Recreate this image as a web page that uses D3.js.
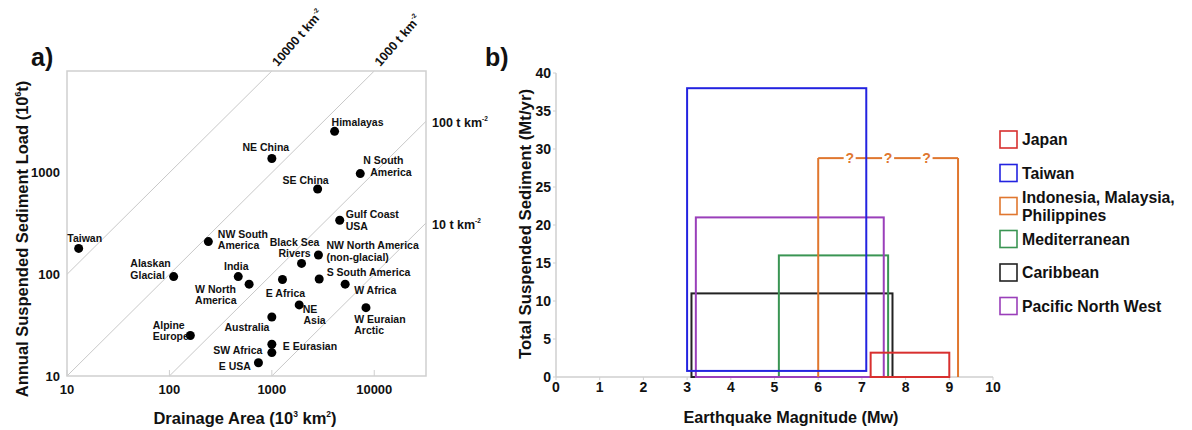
<!DOCTYPE html>
<html>
<head>
<meta charset="utf-8">
<script src="https://cdn.jsdelivr.net/npm/d3@7"></script>
<style>
  html, body { margin: 0; padding: 0; background: #fff; }
  svg { display: block; }
  text { font-family: "Liberation Sans", Arial, sans-serif; font-weight: bold; fill: #111; }
</style>
</head>
<body>
<svg id="chart" width="1192" height="430"></svg>
<script>
// ---------------- Panel a data ----------------
const regions = ["Taiwan", "Himalayas", "NE China", "N South America", "SE China", "Gulf Coast USA",
  "NW South America", "Black Sea Rivers", "NW North America (non-glacial)", "India", "W North America",
  "E Africa", "S South America", "W Africa", "NE Asia", "W Euraian Arctic", "Australia",
  "E Eurasian", "SW Africa", "E USA", "Alaskan Glacial", "Alpine Europe"];
const drainageArea = [13, 4100, 1000, 7300, 2800, 4600, 240, 1950, 2850, 470, 600,
  1270, 2900, 5200, 1850, 8300, 1000, 1000, 1000, 740, 110, 160];        // 10^3 km^2
const sedimentLoad = [180, 2550, 1380, 980, 690, 340, 210, 128, 155, 95, 80,
  89, 90, 80, 50, 47, 38, 20.5, 17, 13.5, 95, 25];                        // 10^6 t
const areaTicks = [10, 100, 1000, 10000];
const loadTicks = [10, 100, 1000];
const yieldLines = [10000, 1000, 100, 10];                                 // t km^-2

// label text lines per region, and presentation offsets (separate from data)
const labelLines = [["Taiwan"], ["Himalayas"], ["NE China"], ["N South", "America"], ["SE China"],
  ["Gulf Coast", "USA"], ["NW South", "America"], ["Black Sea", "Rivers"], ["NW North America", "(non-glacial)"],
  ["India"], ["W North", "America"], ["E Africa"], ["S South America"], ["W Africa"], ["NE", "Asia"],
  ["W Euraian", "Arctic"], ["Australia"], ["E Eurasian"], ["SW Africa"], ["E USA"], ["Alaskan", "Glacial"],
  ["Alpine", "Europe"]];
// [anchor, [[dx,dy],...]]
const labelPlace = [
  ["middle", [[6, -10]]],
  ["start", [[-3, -9]]],
  ["middle", [[-6, -11]]],
  ["start", [[3, -13], [10, -1.5]]],
  ["middle", [[-12, -9]]],
  ["start", [[6, -6], [6, 5.5]]],
  ["start", [[9.5, -7.5], [9.5, 3.5]]],
  ["middle", [[-7, -21], [-7, -10]]],
  ["start", [[8, -9.5], [8, 2.5]]],
  ["middle", [[-2, -10.5]]],
  ["start", [[-54, 5.5], [-54, 16.5]]],
  ["middle", [[3, 14]]],
  ["start", [[7.5, -6.3]]],
  ["start", [[9, 6.4]]],
  ["start", [[3.5, 4], [4.3, 15.3]]],
  ["start", [[-11.7, 11.6], [-11.7, 23]]],
  ["end", [[-2.4, 10]]],
  ["start", [[11, 1.4]]],
  ["end", [[-9.4, -2.7]]],
  ["end", [[-7.6, 3]]],
  ["start", [[-43.3, -13.4], [-43.3, -1.7]]],
  ["start", [[-37.7, -10], [-37.7, 1]]]
];

// ---------------- Panel b data ----------------
const zones = ["Japan", "Taiwan", "Indonesia, Malaysia, Philippines", "Mediterranean", "Caribbean", "Pacific North West"];
const legendLines = [["Japan"], ["Taiwan"], ["Indonesia, Malaysia,", "Philippines"], ["Mediterranean"], ["Caribbean"], ["Pacific North West"]];
const magMin = [7.2, 3.0, 6.0, 5.1, 3.1, 3.2];
const magMax = [9.0, 7.1, 9.2, 7.6, 7.7, 7.5];
const sedMin = [0, 0.8, 0, 0, 0, 0];
const sedMax = [3.2, 38, 28.8, 16, 11, 21];
const zoneColors = ["#d8302f", "#2323e0", "#e0772f", "#3a9553", "#222222", "#9a3fba"];
const questionMarks = [6.72, 7.6, 8.48];          // along uncertain top of Indonesia box
const magTicks = [0, 1, 2, 3, 4, 5, 6, 7, 8, 9, 10];
const sedTicks = [0, 5, 10, 15, 20, 25, 30, 35, 40];
const drawOrder = [4, 3, 5, 2, 1, 0];

const svg = d3.select("#chart");

// ================= Panel a =================
{
  const L = 67, R = 426, T = 71, B = 376;
  const x = d3.scaleLog().domain([10, 32000]).range([L, R]);
  const y = d3.scaleLog().domain([10, 10000]).range([B, T]);
  const g = svg.append("g");

  g.append("text").attr("x", 31).attr("y", 66).attr("font-size", 25).text("a)");

  // yield lines
  yieldLines.forEach(D => {
    const f = a => a * D / 1000;
    const a0 = Math.max(10, 10 * 1000 / D);
    const a1 = Math.min(32000, 10000 * 1000 / D);
    g.append("line")
      .attr("x1", x(a0)).attr("y1", y(f(a0)))
      .attr("x2", x(a1)).attr("y2", y(f(a1)))
      .attr("stroke", "#c8c8c8").attr("stroke-width", 1);
    let t;
    if (a1 < 32000) {
      t = g.append("text")
        .attr("transform", `translate(${x(a1) + 6},${y(f(a1)) - 4}) rotate(-49)`)
        .attr("font-size", 12.5);
    } else {
      t = g.append("text")
        .attr("x", R + 6).attr("y", y(f(a1)) + 6)
        .attr("font-size", 12.5);
    }
    t.append("tspan").text(`${D} t km`);
    t.append("tspan").attr("font-size", 6.5).attr("dy", -6).text("-2");
  });

  // frame
  g.append("rect").attr("x", L).attr("y", T).attr("width", R - L).attr("height", B - T)
    .attr("fill", "none").attr("stroke", "#cfcfcf").attr("stroke-width", 1.5);

  // x ticks inward
  g.selectAll(".xt").data(areaTicks).join("line")
    .attr("x1", d => x(d)).attr("x2", d => x(d)).attr("y1", B).attr("y2", B - 6)
    .attr("stroke", "#cfcfcf").attr("stroke-width", 1);

  g.selectAll(".xl").data(areaTicks).join("text")
    .attr("x", d => x(d)).attr("y", 394).attr("text-anchor", "middle").attr("font-size", 13)
    .text(d => d3.format("d")(d));
  g.selectAll(".yl").data(loadTicks).join("text")
    .attr("x", 60).attr("y", d => y(d) + 4.5).attr("text-anchor", "end").attr("font-size", 13)
    .text(d => d3.format("d")(d));

  // axis titles
  const xt = g.append("text").attr("x", 245).attr("y", 424).attr("text-anchor", "middle").attr("font-size", 16.5);
  xt.append("tspan").text("Drainage Area (10");
  xt.append("tspan").attr("font-size", 8.5).attr("dy", -7).text("3");
  xt.append("tspan").attr("dy", 7).text(" km");
  xt.append("tspan").attr("font-size", 8.5).attr("dy", -7).text("2");
  xt.append("tspan").attr("dy", 7).text(")");

  const yt = g.append("text").attr("transform", "translate(28,239) rotate(-90)")
    .attr("text-anchor", "middle").attr("font-size", 16.5);
  yt.append("tspan").text("Annual Suspended Sediment Load (10");
  yt.append("tspan").attr("font-size", 8.5).attr("dy", -7).text("6");
  yt.append("tspan").attr("dy", 7).text("t)");

  // points
  g.selectAll(".pt").data(regions).join("circle")
    .attr("cx", (d, i) => x(drainageArea[i])).attr("cy", (d, i) => y(sedimentLoad[i]))
    .attr("r", 4.5).attr("fill", "#000");

  regions.forEach((r, i) => {
    const px = x(drainageArea[i]), py = y(sedimentLoad[i]);
    const [anchor, offs] = labelPlace[i];
    labelLines[i].forEach((line, k) => {
      g.append("text")
        .attr("x", px + offs[k][0]).attr("y", py + offs[k][1] + 3.8)
        .attr("text-anchor", anchor).attr("font-size", 10.5)
        .text(line);
    });
  });
}

// ================= Panel b =================
{
  const L = 556, R = 993, T = 73, B = 377;
  const x = d3.scaleLinear().domain([0, 10]).range([L, R]);
  const y = d3.scaleLinear().domain([0, 40]).range([B, T]);
  const g = svg.append("g");

  g.append("text").attr("x", 485).attr("y", 66).attr("font-size", 25).text("b)");

  // axes
  g.append("line").attr("x1", L).attr("x2", L).attr("y1", T).attr("y2", B)
    .attr("stroke", "#cfcfcf").attr("stroke-width", 1.5);
  g.append("line").attr("x1", L).attr("x2", R).attr("y1", B).attr("y2", B)
    .attr("stroke", "#cfcfcf").attr("stroke-width", 1.5);
  g.selectAll(".yt").data(sedTicks).join("line")
    .attr("x1", L - 3).attr("x2", L).attr("y1", d => y(d)).attr("y2", d => y(d))
    .attr("stroke", "#cfcfcf");
  g.selectAll(".xt").data(magTicks).join("line")
    .attr("x1", d => x(d)).attr("x2", d => x(d)).attr("y1", B).attr("y2", B + 3)
    .attr("stroke", "#cfcfcf");
  g.selectAll(".yl").data(sedTicks).join("text")
    .attr("x", L - 5).attr("y", d => y(d) + 5).attr("text-anchor", "end").attr("font-size", 14)
    .text(d => d);
  g.selectAll(".xl").data(magTicks).join("text")
    .attr("x", d => x(d)).attr("y", 392).attr("text-anchor", "middle").attr("font-size", 14)
    .text(d => d);

  g.append("text").attr("x", 791).attr("y", 423).attr("text-anchor", "middle").attr("font-size", 16.2)
    .text("Earthquake Magnitude (Mw)");
  g.append("text").attr("transform", "translate(531,224) rotate(-90)")
    .attr("text-anchor", "middle").attr("font-size", 16.8)
    .text("Total Suspended Sediment (Mt/yr)");

  // boxes
  drawOrder.forEach(i => {
    const x0 = x(magMin[i]), x1 = x(magMax[i]), y0 = y(sedMin[i]), y1 = y(sedMax[i]);
    if (i === 2) {
      // uncertain top edge with question marks
      const gaps = questionMarks.map(m => x(m));
      const pts = [x0].concat(...gaps.map(gx => [gx - 6, gx + 6])).concat([x1]);
      g.append("path")
        .attr("d", `M${x0},${y0}V${y1}M${x1},${y1}V${y0}`)
        .attr("fill", "none").attr("stroke", zoneColors[i]).attr("stroke-width", 2);
      for (let k = 0; k < pts.length; k += 2) {
        g.append("line").attr("x1", pts[k]).attr("x2", pts[k + 1]).attr("y1", y1).attr("y2", y1)
          .attr("stroke", zoneColors[i]).attr("stroke-width", 2);
      }
      g.selectAll(".qm").data(questionMarks).join("text")
        .attr("x", d => x(d)).attr("y", y1 + 5).attr("text-anchor", "middle")
        .attr("font-size", 14).style("fill", zoneColors[i]).text("?");
    } else {
      g.append("rect").attr("x", x0).attr("y", y1).attr("width", x1 - x0).attr("height", y0 - y1)
        .attr("fill", "none").attr("stroke", zoneColors[i]).attr("stroke-width", 2);
    }
  });

  // legend
  const legY = [131, 164.5, 197.5, 230.5, 264, 297.5];
  zones.forEach((z, i) => {
    g.append("rect").attr("x", 1000).attr("y", legY[i]).attr("width", 17).attr("height", 17)
      .attr("fill", "#fff").attr("stroke", zoneColors[i]).attr("stroke-width", 1.6);
    const lines = legendLines[i];
    lines.forEach((ln, k) => {
      const cy = lines.length === 1 ? legY[i] + 8.5 : legY[i] + 8.5 - 9 + k * 18;
      g.append("text").attr("x", 1022).attr("y", cy + 5.6).attr("font-size", 15.8).text(ln);
    });
  });
}
</script>
</body>
</html>
